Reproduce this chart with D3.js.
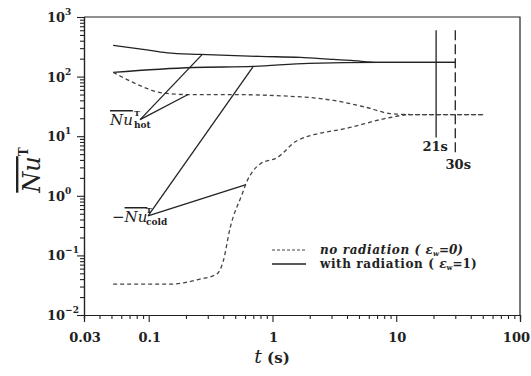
<!DOCTYPE html>
<html><head><meta charset="utf-8">
<script src="https://cdn.jsdelivr.net/npm/d3@7"></script>
<style>body{margin:0;background:#fff}svg{display:block}</style>
</head><body><svg id="c" width="531" height="376"></svg>
<script>
// ---- data ----
const xTickValues = [0.1, 1, 10, 100];
const xTickLabelValues = [0.03, 0.1, 1, 10, 100];
const xTickLabels = ["0.03", "0.1", "1", "10", "100"];
const yTickExponents = [-2, -1, 0, 1, 2, 3];

// with radiation (solid)
const tHotRad  = [0.0516, 0.09, 0.141, 0.26, 0.79, 1.68, 3.12, 4.3, 7.3, 30];
const nuHotRad = [335, 287, 250, 236, 218, 210, 194, 187, 173, 173];
const tColdRad  = [0.0516, 0.229, 0.70, 1.96, 7.3, 30];
const nuColdRad = [118, 142, 148, 167, 173, 173];

// no radiation (dashed)
const tHotNo  = [0.0516, 0.0746, 0.0973, 0.124, 0.204, 0.43, 1.96, 3.12, 5.8, 8.9, 13, 52];
const nuHotNo = [118, 80, 63, 54, 50, 50, 44.7, 39.8, 30.3, 24, 23.1, 23.1];
const tColdNo  = [0.0516, 0.149, 0.26, 0.357, 0.40, 0.455, 0.57, 0.625, 0.70, 0.80, 1.09, 1.58, 4.25, 8.96, 13, 52];
const nuColdNo = [0.033, 0.033, 0.040, 0.049, 0.080, 0.29, 1.08, 1.79, 2.64, 3.46, 4.36, 8.4, 14, 20.6, 23.1, 23.1];

// steady-state markers
const markerTimes = [21, 30];
const markerLabels = ["21s", "30s"];

// legend
const legendLabels = ["no radiation", "with radiation"];
const legendVals = ["0", "1"];

// ---- chart ----
const svg = d3.select("#c");
const L = 84, R = 520, T = 17, B = 315;
const x = d3.scaleLog().domain([0.03, 100]).range([L, R]);
const y = d3.scaleLog().domain([0.01, 1000]).range([B, T]);
const ink = "#222";
const serif = "'DejaVu Serif', 'Liberation Serif', serif";

// frame (top & right)
svg.append("path").attr("d", `M${L},${T}H${R}V${B}`).attr("fill","none").attr("stroke",ink).attr("stroke-width",1.2);

// x minor ticks
const xMinor = [];
for (let k = -2; k <= 1; k++) for (let d = 1; d <= 9; d++) {
  const v = d * Math.pow(10, k);
  if (v >= 0.03 - 1e-9 && v <= 100 && ![0.1,1,10,100].some(m => Math.abs(m - v) < 1e-9)) xMinor.push(v);
}
const gxMinor = svg.append("g").attr("transform", `translate(0,${B})`)
  .call(d3.axisBottom(x).tickValues(xMinor).tickSize(4).tickFormat(""));
const gx = svg.append("g").attr("transform", `translate(0,${B})`)
  .call(d3.axisBottom(x).tickValues(xTickValues).tickSize(7).tickFormat(""));
[gxMinor, gx].forEach(g => { g.selectAll("line").attr("stroke", ink).attr("stroke-width",1.1); g.select(".domain").attr("stroke", ink).attr("stroke-width",1.2); });

// x tick labels
svg.append("g").selectAll("text").data(xTickLabelValues).join("text")
  .attr("x", (d, i) => i === xTickLabelValues.length - 1 ? 530 : x(d) + 1).attr("y", 342)
  .attr("text-anchor", (d, i) => i === xTickLabelValues.length - 1 ? "end" : "middle")
  .attr("font-family", serif).attr("font-weight","bold")
  .attr("font-size", 13).attr("fill", ink).text((d, i) => xTickLabels[i]);

// y ticks
const yMinor = [];
for (let k = -2; k <= 2; k++) for (let d = 2; d <= 9; d++) yMinor.push(d * Math.pow(10, k));
const yMajor = yTickExponents.map(e => Math.pow(10, e));
const gyMinor = svg.append("g").attr("transform", `translate(${L},0)`)
  .call(d3.axisLeft(y).tickValues(yMinor).tickSize(4).tickFormat(""));
const gy = svg.append("g").attr("transform", `translate(${L},0)`)
  .call(d3.axisLeft(y).tickValues(yMajor).tickSize(7).tickFormat(""));
[gyMinor, gy].forEach(g => { g.selectAll("line").attr("stroke", ink).attr("stroke-width",1.1); g.select(".domain").attr("stroke", ink).attr("stroke-width",1.2); });

// y tick labels
const yl = svg.append("g").selectAll("text").data(yTickExponents).join("text")
  .attr("x", 47).attr("y", d => y(Math.pow(10, d)) + 5)
  .attr("font-family", serif).attr("font-weight","bold").attr("font-size", 13).attr("fill", ink);
yl.append("tspan").text("10");
yl.append("tspan").attr("dy", -7).attr("font-size", 9).text(d => d < 0 ? "\u2212" + (-d) : String(d));

// axis titles
const xt = svg.append("text").attr("x", 272).attr("y", 363).attr("text-anchor","middle")
  .attr("font-family", serif).attr("font-size", 19).attr("fill", ink);
xt.append("tspan").attr("font-style","italic").text("t");
xt.append("tspan").attr("font-weight","bold").attr("font-size", 15).text(" (s)");

const ytl = svg.append("text").attr("transform", "translate(40,170) rotate(-90)").attr("text-anchor","middle")
  .attr("font-family", serif).attr("font-size", 24).attr("fill", ink);
ytl.append("tspan").attr("font-style","italic").attr("text-decoration","overline").text("Nu");
ytl.append("tspan").attr("dy", -12).attr("font-size", 12).attr("font-weight","bold").text("T");

// lines
const line = d3.line().x(d => x(d[0])).y(d => y(d[1])).curve(d3.curveMonotoneX);
const zip = (a, b) => a.map((v, i) => [v, b[i]]);
const solidStyle = s => s.attr("fill","none").attr("stroke", ink).attr("stroke-width", 1.3);
const dashStyle = s => s.attr("fill","none").attr("stroke", "#444").attr("stroke-width", 1.3).attr("stroke-dasharray","4,3");
svg.append("path").datum(zip(tHotRad, nuHotRad)).attr("d", line).call(solidStyle);
svg.append("path").datum(zip(tColdRad, nuColdRad)).attr("d", line).call(solidStyle);
svg.append("path").datum(zip(tHotNo, nuHotNo)).attr("d", line).call(dashStyle);
svg.append("path").datum(zip(tColdNo, nuColdNo)).attr("d", line).call(dashStyle);

// steady-state vertical markers
svg.append("line").attr("x1", x(21)).attr("x2", x(21)).attr("y1", y(600)).attr("y2", y(9.5))
  .attr("stroke", ink).attr("stroke-width", 1.3);
svg.append("line").attr("x1", x(30)).attr("x2", x(30)).attr("y1", y(600)).attr("y2", y(5.1))
  .attr("stroke", ink).attr("stroke-width", 1.3).attr("stroke-dasharray","10,4");
svg.append("g").selectAll("text").data(markerTimes).join("text")
  .attr("x", d => x(d) + (d === 30 ? 3 : -1)).attr("y", (d, i) => i === 0 ? 151 : 169)
  .attr("text-anchor","middle").attr("font-family", serif).attr("font-weight","bold")
  .attr("font-size", 13).attr("fill", ink).text((d, i) => markerLabels[i]);

// annotations (leader lines)
const lead = (a, b) => svg.append("line").attr("x1", x(a[0])).attr("y1", y(a[1])).attr("x2", x(b[0])).attr("y2", y(b[1]))
  .attr("stroke", ink).attr("stroke-width", 1.3);
lead([0.0852, 19.0], [0.271, 236]);
lead([0.0852, 19.0], [0.208, 50]);
lead([0.0988, 0.46], [0.603, 1.53]);
lead([0.0988, 0.46], [0.70, 148]);

function nuLabel(xp, yp, prefix, sub) {
  const t = svg.append("text").attr("x", xp).attr("y", yp).attr("font-family", serif).attr("font-size", 15).attr("fill", ink);
  if (prefix) t.append("tspan").text(prefix);
  t.append("tspan").attr("font-style","italic").attr("text-decoration","overline").text("Nu");
  const endX = xp + (prefix ? 10 : 0) + 24;
  svg.append("text").attr("x", endX).attr("y", yp - 9).attr("font-family", serif).attr("font-weight","bold").attr("font-size", 8).attr("fill", ink).text("T");
  svg.append("text").attr("x", endX).attr("y", yp + 3).attr("font-family", serif).attr("font-weight","bold").attr("font-size", 9).attr("fill", ink).text(sub);
}
nuLabel(110, 125, "", "hot");
nuLabel(112, 222, "\u2212", "cold");

// legend
const lg = svg.append("g");
lg.append("line").attr("x1", 272).attr("x2", 306).attr("y1", 250).attr("y2", 250)
  .attr("stroke", "#444").attr("stroke-width", 1.2).attr("stroke-dasharray","3,2");
lg.append("line").attr("x1", 272).attr("x2", 306).attr("y1", 264).attr("y2", 264).call(solidStyle);
legendLabels.forEach((label, i) => {
  const yp = 254 + i * 14;
  const style = i === 0 ? "italic" : "normal";
  const t = lg.append("text").attr("x", 320).attr("y", yp).attr("font-family", serif).attr("font-weight","bold")
    .attr("font-size", 12).attr("fill", ink).attr("font-style", style);
  t.append("tspan").attr("letter-spacing", 0.6).text(label + " ( ");
  t.append("tspan").attr("font-style","italic").text("\u03b5");
  t.append("tspan").attr("dy", 2).attr("font-size", 7).text("w");
  t.append("tspan").attr("dy", -2).text("=" + legendVals[i] + ")");
});
</script>
</body></html>
